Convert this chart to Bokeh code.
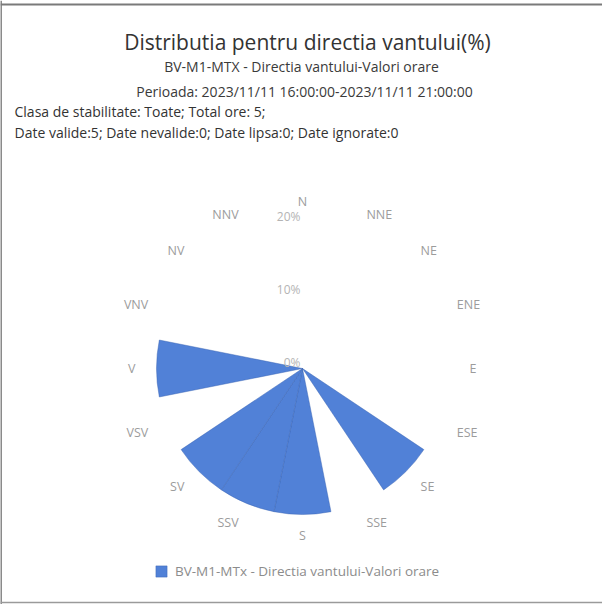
import numpy as np
from bokeh.plotting import figure
from bokeh.models import ColumnDataSource, Range1d, Span, Legend, LegendItem
from bokeh.core.properties import value
from bokeh.embed import file_html
from bokeh.resources import INLINE

# ---------------- data ----------------
directions = ["N", "NNE", "NE", "ENE", "E", "ESE", "SE", "SSE",
              "S", "SSV", "SV", "VSV", "V", "VNV", "NV", "NNV"]
frequencies = [0, 0, 0, 0, 0, 0, 20, 0, 20, 20, 20, 0, 20, 0, 0, 0]  # percent
radial_ticks = [0, 10, 20]
radial_tick_labels = ["0%", "10%", "20%"]
series_name = "BV-M1-MTx - Directia vantului-Valori orare"
title_text = "Distributia pentru directia vantului(%)"
subtitle_lines = ["BV-M1-MTX - Directia vantului-Valori orare",
                  "Perioada: 2023/11/11 16:00:00-2023/11/11 21:00:00"]
info_lines = ["Clasa de stabilitate: Toate; Total ore: 5;",
              "Date valide:5; Date nevalide:0; Date lipsa:0; Date ignorate:0"]

# ---------------- layout ----------------
W, H = 602, 604
CX, CY = 302, 368          # polar centre in figure pixels (from top-left)
PX_PER_UNIT = 7.3          # pixels per percent
FONT = value("Open Sans")

def dx(px):  # figure pixel x -> data
    return (px - CX) / PX_PER_UNIT

def dy(py):  # figure pixel y (from top) -> data
    return (CY - py) / PX_PER_UNIT

p = figure(width=W, height=H, output_backend="svg", toolbar_location=None,
           x_range=Range1d(dx(0), dx(W)), y_range=Range1d(dy(H), dy(0)),
           min_border=0, tools="")
p.axis.visible = False
p.grid.visible = False
p.outline_line_color = None
p.background_fill_color = "white"
p.border_fill_color = "white"

# frame lines (scan border)
p.add_layout(Span(location=dx(0.5), dimension="height", line_color="#8a8a8a", line_width=2))
p.add_layout(Span(location=dy(4), dimension="width", line_color="#7a7a7a", line_width=2))
p.add_layout(Span(location=dy(602), dimension="width", line_color="#9a9a9a", line_width=1.5))

# ---------------- wedges ----------------
n = len(directions)
step = 360.0 / n
bearings = np.arange(n) * step
sel = [i for i in range(n) if frequencies[i] > 0]
src = ColumnDataSource(dict(
    r=[frequencies[i] for i in sel],
    start=[np.deg2rad(90 - (bearings[i] + step / 2)) for i in sel],
    end=[np.deg2rad(90 - (bearings[i] - step / 2)) for i in sel],
))
w = p.wedge(x=0, y=0, radius="r", start_angle="start", end_angle="end",
            direction="anticlock", source=src,
            fill_color="#5181d7", line_color="#3a62b2", line_alpha=0.55, line_width=0.8)

# ---------------- direction labels ----------------
R_LAB = 167 / PX_PER_UNIT
lx, ly, la = [], [], []
for b in bearings:
    s, c = np.sin(np.deg2rad(b)), np.cos(np.deg2rad(b))
    lx.append(R_LAB * s)
    ly.append(R_LAB * c)
    la.append("center" if abs(s) < 0.1 else ("left" if s > 0 else "right"))
p.text(x=lx, y=ly, text=directions, text_align=la, text_baseline="middle",
       text_font=FONT, text_font_size="12.5px", text_color="#9c9c9c")

# radial tick labels
p.text(x=[dx(300)] * len(radial_ticks), y=radial_ticks, text=radial_tick_labels,
       text_align="right", text_baseline="middle", y_offset=-6,
       text_font=FONT, text_font_size="12px", text_color="#b4b4b4")

# ---------------- titles ----------------
p.text(x=[dx(307)], y=[dy(41)], text=[title_text], text_align="center",
       text_baseline="middle", text_font=FONT, text_font_size="21px", text_color="#333333")
p.text(x=[dx(301), dx(304)], y=[dy(66), dy(91)], text=subtitle_lines, text_align="center",
       text_baseline="middle", text_font=FONT, text_font_size="14px", text_color="#3a3a3a")
p.text(x=[dx(14), dx(14)], y=[dy(111), dy(132)], text=info_lines, text_align="left",
       text_baseline="middle", text_font=FONT, text_font_size="14px", text_color="#333333")

# ---------------- legend ----------------
legend = Legend(items=[LegendItem(label=series_name, renderers=[w])],
                location=(154, 24), orientation="horizontal",
                glyph_width=14, glyph_height=14, label_height=14, label_standoff=7,
                padding=0, margin=0, border_line_color=None, background_fill_alpha=0,
                label_text_font="Open Sans", label_text_font_size="13.5px",
                label_text_color="#8c8c8c")
p.add_layout(legend, "center")

open("out.html", "w").write(file_html(p, INLINE))
